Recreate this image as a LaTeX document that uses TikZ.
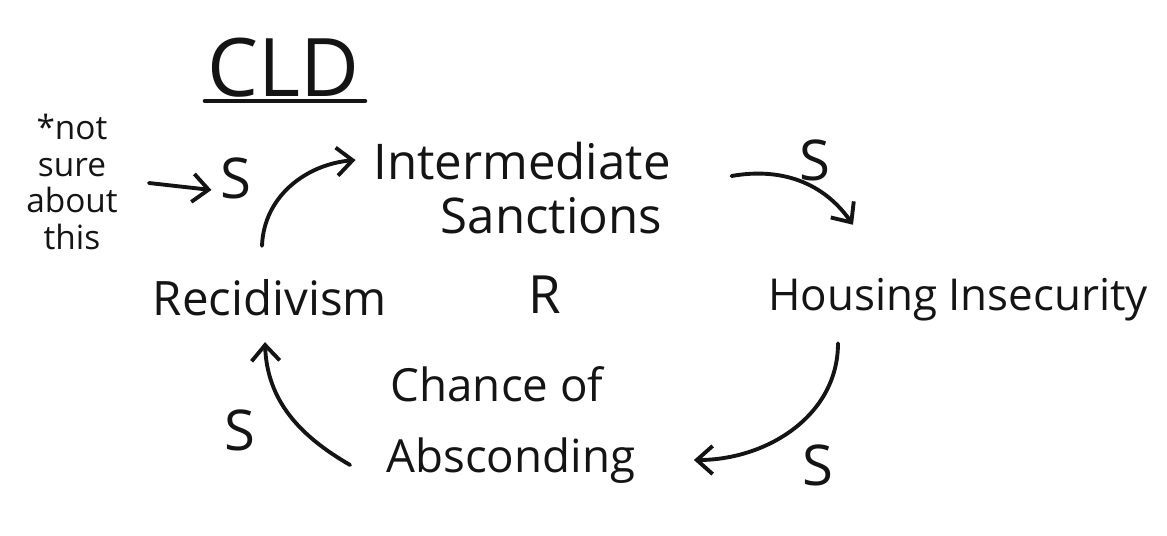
\documentclass[tikz,border=0pt]{standalone}
\usepackage{fontspec}
\setmainfont{Open Sans}
\usetikzlibrary{arrows.meta,positioning,calc}
\definecolor{InkBlack}{HTML}{141414}

\begin{document}
\begin{tikzpicture}[x=0.02cm,y=-0.02cm,
    every node/.style={text=InkBlack},
    var/.style={font=\fontsize{28}{32}\selectfont,align=center,inner sep=2pt},
    pol/.style={font=\fontsize{32}{36}\selectfont,inner sep=1pt},
    link/.style={draw=InkBlack,line width=2.2pt,line cap=round,-{Straight Barb[length=9pt,width=16pt,line width=2.2pt]}}]
      \useasboundingbox (0,0) rectangle (1167,535);

      \node[font=\fontsize{46}{50}\selectfont] (title) at (283,68) {CLD};
      \draw[line width=2.6pt,line cap=round,InkBlack] (205,101) -- (365,101);

      \node[font=\fontsize{19}{21}\selectfont,align=center] (note) at (72,182) {*not\\sure\\about\\this};

      \node[var,font=\fontsize{28}{31}\selectfont] (sanc) at (522,188) {Intermediate\\\hspace*{1.2em}Sanctions};
      \node[var,font=\fontsize{25}{30}\selectfont] (house) at (958,300) {Housing Insecurity};
      \node[var,font=\fontsize{27}{30}\selectfont] (recid) at (270,298) {Recidivism};
      \node[var,font=\fontsize{26}{40}\selectfont] (chance) at (497,425) {Chance of\\\hspace*{0.6em}Absconding};
      \node[pol,font=\fontsize{30}{34}\selectfont] (loop) at (545,295) {R};

      \node[pol] (s1) at (236,178) {S};
      \node[pol] (s2) at (815,160) {S};
      \node[pol] (s3) at (818,465) {S};
      \node[pol] (s4) at (240,430) {S};

      \draw[link] ($(note.east |- 0,183)+(25,0)$) -- ($(s1.west)+(-7,12)$);
      \draw[link] ($(recid.north)+(-8,-30)$) to[out=88,in=185] ($(sanc.west)+(-14,-28)$);
      \draw[link] ($(sanc.east)+(57,-12)$) to[out=10,in=125] ($(house.north)+(-105,-50)$);
      \draw[link] ($(house.south)+(-120,18)$) to[out=-90,in=0] ($(chance.east)+(55,35)$);
      \draw[link] ($(chance.west)+(-5,40)$) to[out=150,in=-88] ($(recid.south)+(-5,22)$);
    \end{tikzpicture}
\end{document}
